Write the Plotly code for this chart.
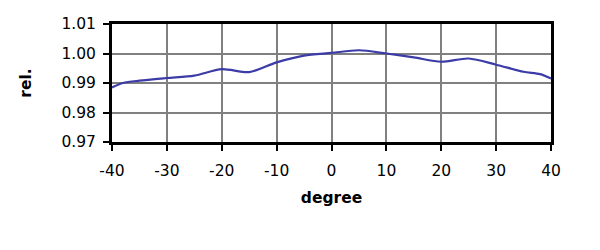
import plotly.graph_objects as go

degree = [-40, -38, -35, -30, -25, -20, -15, -10, -5, 0, 5, 10, 15, 20, 25, 30, 35, 38, 40]
rel = [0.9885, 0.9900, 0.9908, 0.9917, 0.9925, 0.9947, 0.9937, 0.9970, 0.9993, 1.0002,
       1.0011, 1.0000, 0.9987, 0.9972, 0.9983, 0.9962, 0.9938, 0.9930, 0.9915]
x_ticks = [-40, -30, -20, -10, 0, 10, 20, 30, 40]
x_labels = ["-40", "-30", "-20", "-10", "0", "10", "20", "30", "40"]
y_ticks = [0.97, 0.98, 0.99, 1.00, 1.01]
y_labels = ["0.97", "0.98", "0.99", "1.00", "1.01"]

fig = go.Figure()
fig.add_trace(go.Scatter(x=degree, y=rel, mode="lines",
                         line=dict(color="#3c3ca8", width=2.2, shape="spline", smoothing=0.8),
                         showlegend=False))

font = "DejaVu Sans, Verdana, sans-serif"
fig.update_layout(
    width=600, height=250,
    margin=dict(l=112, r=49, t=24, b=108),
    paper_bgcolor="white", plot_bgcolor="white",
    font=dict(family=font, size=15.5, color="black"),
    xaxis=dict(range=[-40, 40], tickvals=x_ticks, ticktext=x_labels, ticks="outside",
               ticklen=6, tickwidth=2, ticklabelstandoff=6,
               tickcolor="black", showline=True, linecolor="black", linewidth=3, mirror=True,
               showgrid=True, gridcolor="#808080", gridwidth=2, zeroline=False,
               title=dict(text="<b>degree</b>", font=dict(size=15.5), standoff=14)),
    yaxis=dict(range=[0.97, 1.01], tickvals=y_ticks, ticktext=y_labels, ticks="outside",
               ticklen=6, tickwidth=2, ticklabelstandoff=4, tickcolor="black",
               showline=True, linecolor="black",
               linewidth=3, mirror=True, showgrid=True, gridcolor="#808080", gridwidth=2,
               zeroline=False,
               title=dict(text="<b>rel.</b>", font=dict(size=15.5), standoff=26)),
)
fig.write_html("out.html")
